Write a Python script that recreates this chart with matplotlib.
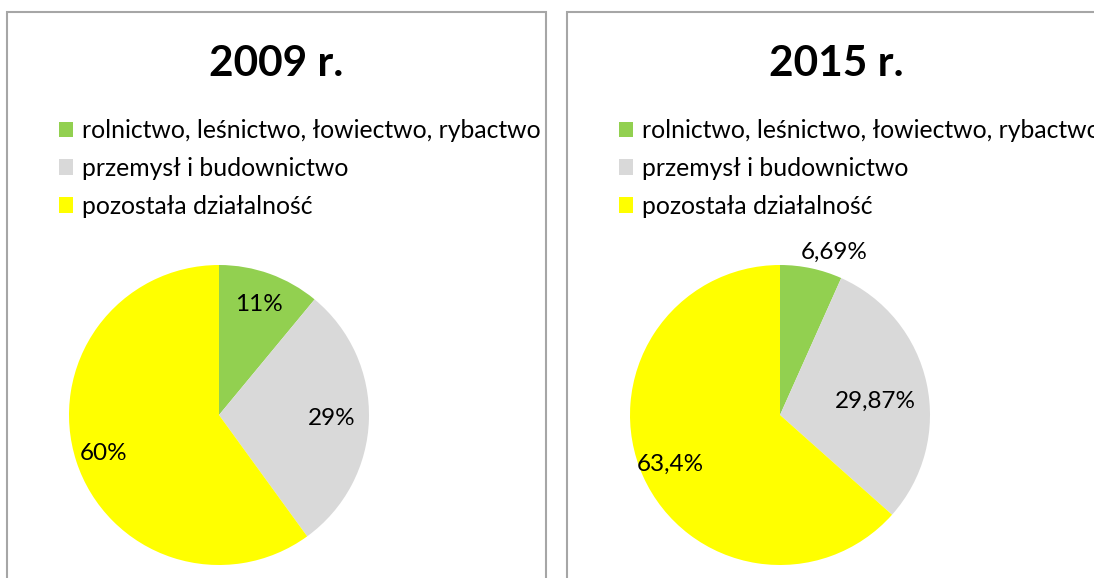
import matplotlib.pyplot as plt
from matplotlib.patches import Rectangle
import numpy as np

plt.rcParams['font.family'] = ['Lato', 'DejaVu Sans']

# dane
kategorie = ['rolnictwo, leśnictwo, łowiectwo, rybactwo',
             'przemysł i budownictwo',
             'pozostała działalność']
lata = ['2009 r.', '2015 r.']
udzialy_2009 = [11, 29, 60]
udzialy_2015 = [6.69, 29.87, 63.4]
etykiety_2009 = ['11%', '29%', '60%']
etykiety_2015 = ['6,69%', '29,87%', '63,4%']
kolory = ['#92D050', '#D9D9D9', '#FFFF00']

W, H = 1094, 578
fig = plt.figure(figsize=(W / 100, H / 100), dpi=100)

def px(x, y, w, h):  # piksele -> ulamki figury
    return [x / W, 1 - (y + h) / H, w / W, h / H]

# dist = odleglosc etykiety od srodka, dx/dy = drobne przesuniecie (w promieniach)
panele = [
    dict(x0=7, cx=219, dist=[0.78, 0.75, 0.83], dx=[0, 0, 0.02], dy=[0, 0, 0],
         dane=udzialy_2009, et=etykiety_2009, rok=lata[0]),
    dict(x0=567, cx=780, dist=[1.15, 0.64, 0.80], dx=[0.12, 0.01, 0], dy=[-0.04, -0.04, 0],
         dane=udzialy_2015, et=etykiety_2015, rok=lata[1]),
]

for p in panele:
    # ramka panelu (wychodzi poza dol obrazka)
    fig.patches.append(Rectangle((p['x0'] / W, -0.1), 539 / W, 1.1 - 12 / H,
                                 transform=fig.transFigure, fill=False,
                                 edgecolor='#A6A6A6', linewidth=1.5))
    fig.text((p['x0'] + 269.5) / W, 1 - 64 / H, p['rok'], ha='center', va='center',
             fontsize=30.5, fontweight='bold')

    r = 150
    ax = fig.add_axes(px(p['cx'] - r, 415 - r, 2 * r, 2 * r))
    wedges, _ = ax.pie(p['dane'], colors=kolory, startangle=90, counterclock=False,
                       radius=1, wedgeprops=dict(linewidth=0))
    ax.set_xlim(-1, 1)
    ax.set_ylim(-1, 1)
    ax.set_aspect('equal')
    ax.axis('off')

    for w, t, d, ox, oy in zip(wedges, p['et'], p['dist'], p['dx'], p['dy']):
        kat = np.deg2rad((w.theta1 + w.theta2) / 2)
        ax.text(d * np.cos(kat) + ox, d * np.sin(kat) + oy, t, ha='center', va='center',
                fontsize=17.5, clip_on=False)

    ax.legend(wedges, kategorie, loc='upper left',
              bbox_to_anchor=((p['x0'] + 52) / W, 1 - 119 / H),
              bbox_transform=fig.transFigure, frameon=False, fontsize=17.8,
              handlelength=0.57, handleheight=0.57, handletextpad=0.36,
              labelspacing=0.6, borderaxespad=0, borderpad=0)

fig.savefig('out.png', dpi=100)
